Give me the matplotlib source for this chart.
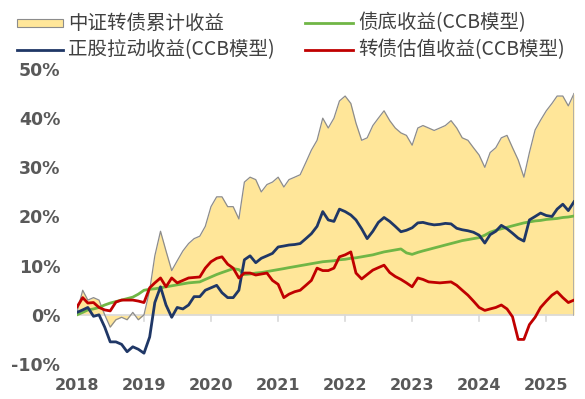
import matplotlib
matplotlib.use("Agg")
import matplotlib.pyplot as plt
import matplotlib.ticker as mticker
import matplotlib.dates as mdates
from matplotlib.patches import Rectangle
from matplotlib.lines import Line2D
import pandas as pd

plt.rcParams['font.family'] = ['Noto Sans CJK SC', 'DejaVu Sans']

# monthly points, Jan 2018 .. Jun 2025
dates = pd.date_range("2018-01-01", "2025-06-01", freq="MS")

# 中证转债累计收益 (%)
index_ret = [0.5, 5, 3, 3.5, 3, 0, -2.5, -1, -0.5, -1, 0.5, -1,
             0, 5, 12, 17, 13, 9, 11, 13, 14.5, 15.5, 16, 18,
             22, 24, 24, 22, 22, 19.5, 27, 28, 27.5, 25, 26.5, 27,
             28, 26, 27.5, 28, 28.5, 31, 33.5, 35.5, 40, 38, 40, 43.5,
             44.5, 43, 39, 35.5, 36, 38.5, 40, 41.5, 39.5, 38, 37, 36.5,
             34.5, 38, 38.5, 38, 37.5, 38, 38.5, 39.5, 38, 36, 35.5, 34,
             32.5, 30, 33, 34, 36, 36.5, 34, 31.5, 28, 33, 37.6, 39.6,
             41.5, 43, 44.5, 44.5, 42.5, 45]

# 债底收益(CCB模型) (%)
bond_floor = [0, 0.5, 1, 1.2, 1.5, 2, 2.4, 2.7, 3, 3.3, 3.6, 4.2,
              5, 5.2, 5.3, 5.5, 5.7, 5.9, 6.1, 6.3, 6.5, 6.6, 6.7, 7.2,
              7.7, 8.2, 8.6, 9.0, 9.4, 9.2, 8.2, 8.3, 8.5, 8.6, 8.8, 9.0,
              9.2, 9.4, 9.6, 9.8, 10.0, 10.2, 10.4, 10.6, 10.8, 10.9, 11.0, 11.2,
              11.3, 11.5, 11.6, 11.8, 12.0, 12.2, 12.5, 12.8, 13.0, 13.2, 13.4, 12.6,
              12.3, 12.7, 13.0, 13.3, 13.6, 13.9, 14.2, 14.5, 14.8, 15.1, 15.3, 15.5,
              15.7, 16.2, 16.8, 17.2, 17.5, 17.8, 18.1, 18.4, 18.7, 18.9, 19.1, 19.2,
              19.4, 19.5, 19.6, 19.8, 19.9, 20.1]

# 正股拉动收益(CCB模型) (%)
equity_drive = [0.5, 1, 1.5, -0.3, 0, -2.5, -5.5, -5.5, -6, -7.5, -6.5, -7,
                -7.8, -4.5, 2.5, 5.7, 2, -0.5, 1.5, 1.2, 2, 3.7, 3.7, 5,
                5.5, 6, 4.5, 3.5, 3.5, 5, 11.2, 12, 10.6, 11.5, 12, 12.5,
                13.8, 14, 14.2, 14.3, 14.5, 15.5, 16.5, 18, 21, 19.3, 19, 21.5,
                21, 20.3, 19.3, 17.5, 15.5, 17, 18.8, 19.8, 19, 18, 16.9, 17.2,
                17.7, 18.7, 18.8, 18.5, 18.3, 18.4, 18.6, 18.5, 17.6, 17.3, 17.1, 16.8,
                16.2, 14.6, 16.3, 17, 18.2, 17.5, 16.6, 15.6, 15, 19.3, 20, 20.7,
                20.2, 20, 21.5, 22.5, 21.2, 23]

# 转债估值收益(CCB模型) (%)
valuation = [1.6, 3.5, 2.4, 2.5, 1.5, 1, 0.8, 2.6, 3, 3, 3, 2.8,
             2.5, 5.5, 6.5, 7.5, 5.7, 7.5, 6.5, 7, 7.5, 7.6, 7.7, 9.5,
             10.8, 11.5, 11.8, 10.3, 9.5, 7.5, 8.5, 8.5, 8.1, 8.3, 8.5, 7,
             6.2, 3.5, 4.2, 4.7, 5, 6, 7, 9.5, 9, 9, 9.5, 11.8,
             12.2, 12.8, 8.5, 7.3, 8.2, 9.1, 9.6, 10.1, 8.6, 7.8, 7.2, 6.5,
             5.7, 7.5, 7.2, 6.7, 6.6, 6.5, 6.6, 6.7, 6.0, 5.0, 4, 2.8,
             1.5, 0.9, 1.2, 1.5, 2, 1.2, -0.4, -5, -5, -2, -0.5, 1.5,
             2.8, 4, 4.7, 3.5, 2.5, 3]

labels = ["中证转债累计收益", "正股拉动收益(CCB模型)", "债底收益(CCB模型)", "转债估值收益(CCB模型)"]
c_fill = "#FFE699"
c_edge = "#8C8C8C"
c_green = "#70B646"
c_blue = "#1F3766"
c_red = "#C00000"
tick_color = "#595959"

W, H = 585, 399
fig = plt.figure(figsize=(W / 100, H / 100), dpi=100)
ax = fig.add_axes([77 / W, 1 - 364 / H, (574 - 77) / W, (364 - 69) / H])

ax.fill_between(dates, 0, index_ret, color=c_fill, lw=0, zorder=1)
ax.plot(dates, index_ret, color=c_edge, lw=0.9, zorder=2)
ax.plot([dates[-1], dates[-1]], [0, index_ret[-1]], color="#A6A6A6", lw=1.2, zorder=2)
ax.plot(dates, bond_floor, color=c_green, lw=2, zorder=3)
ax.plot(dates, equity_drive, color=c_blue, lw=2, zorder=4)
ax.plot(dates, valuation, color=c_red, lw=2, zorder=5)

ax.set_xlim(dates[0], dates[-1])
ax.set_ylim(-10, 50)
ax.yaxis.set_major_locator(mticker.MultipleLocator(10))
ax.yaxis.set_major_formatter(mticker.FuncFormatter(lambda v, p: f"{v:.0f}%"))
ax.xaxis.set_major_locator(mdates.YearLocator())
ax.xaxis.set_major_formatter(mdates.DateFormatter("%Y"))

for s in ["top", "right", "left", "bottom"]:
    ax.spines[s].set_visible(False)
ax.axhline(0, color="#D9D9D9", lw=1.2, zorder=1.5)
for d in pd.date_range("2019-01-01", "2025-01-01", freq="YS"):
    ax.plot([d, d], [0, -1.2], color="#D9D9D9", lw=1.2, zorder=1.5, clip_on=False)

ax.tick_params(axis="both", length=0, colors=tick_color)
ax.tick_params(axis="y", pad=12)
ax.tick_params(axis="x", pad=10)
for t in ax.get_yticklabels():
    t.set_fontweight("bold")
    t.set_fontsize(12.5)
    t.set_family("DejaVu Sans")
for t in ax.get_xticklabels():
    t.set_fontweight("bold")
    t.set_fontsize(11.5)
    t.set_family("DejaVu Sans")

# legend, drawn by hand in pixel positions: two rows, two columns
rows = [1 - 23 / H, 1 - 50 / H]
cols = [(17, 63), (305, 353)]
entries = [(0, 0, "patch", c_fill), (1, 0, "line", c_blue),
           (0, 1, "line", c_green), (1, 1, "line", c_red)]
for (r, c, kind, color), lab in zip(entries, labels):
    x0, x1 = cols[c][0] / W, cols[c][1] / W
    y = rows[r]
    if kind == "patch":
        fig.add_artist(Rectangle((x0, y - 4 / H), x1 - x0, 8 / H, transform=fig.transFigure,
                                 facecolor=color, edgecolor=c_edge, lw=0.8))
    else:
        fig.add_artist(Line2D([x0, x1], [y, y], transform=fig.transFigure, color=color, lw=2))
    fig.text(x1 + 5 / W, y, lab, fontsize=14, color="#404040", va="center", ha="left")

fig.savefig("out.png", dpi=100)
